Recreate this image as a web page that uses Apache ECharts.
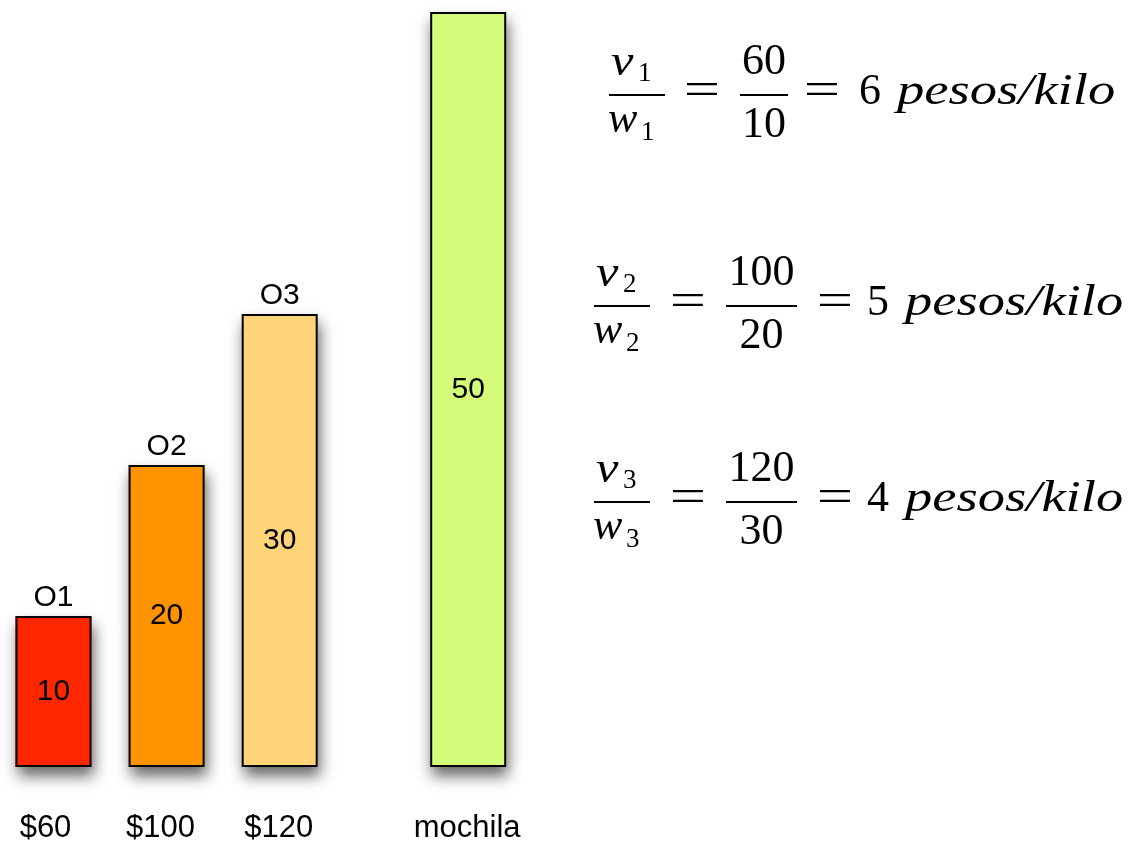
<!DOCTYPE html>
<html>
<head>
<meta charset="utf-8">
<script src="https://cdn.jsdelivr.net/npm/echarts@6/dist/echarts.min.js"></script>
<style>
html,body{margin:0;padding:0;background:#fff;}
#chart{width:1135px;height:844px;}
</style>
</head>
<body>
<div id="chart"></div>
<script>
// ---- data ----
const prices = ['$60', '$100', '$120', 'mochila'];
const weights = [10, 20, 30, 50];
const topLabels = ['O1', 'O2', 'O3', ''];
const colors = ['#FF2600', '#FF9300', '#FFD479', '#D4FB79'];
const eqValues = [60, 100, 120];
const eqWeights = [10, 20, 30];
const eqRatios = [6, 5, 4];
const unitText = 'pesos/kilo';

// ---- layout (category slots; mochila sits apart) ----
const slots = [0, 3, 6, 11];
const nSlots = 12;
const labelShift = [-8, -6, -1, -1];

const axisData = new Array(nSlots).fill('');
const barData = new Array(nSlots).fill('-');
const overData = new Array(nSlots).fill('-');
slots.forEach((s, i) => {
  const sh = labelShift[i];
  axisData[s] = {
    value: prices[i],
    textStyle: { padding: sh < 0 ? [0, -2 * sh, 0, 0] : [0, 0, 0, 2 * sh] }
  };
  barData[s] = { value: weights[i], itemStyle: { color: colors[i] } };
  overData[s] = { value: weights[i], name: topLabels[i] };
});

const SANS = '"Liberation Sans", Arimo, Helvetica, Arial, sans-serif';
const SERIF = '"Liberation Serif", "Times New Roman", serif';

// ---- math text ----
function txt(str, x, baseline, F, opts) {
  opts = opts || {};
  const el = {
    type: 'text',
    x: x,
    y: baseline - 0.338 * F,
    silent: true,
    style: {
      text: String(str),
      fontSize: F,
      fontFamily: SERIF,
      fontStyle: opts.italic ? 'italic' : 'normal',
      fill: '#000',
      align: opts.align || 'left',
      verticalAlign: 'middle'
    }
  };
  if (opts.scaleX) { el.scaleX = opts.scaleX; }
  return el;
}
function hline(x1, x2, y) {
  return { type: 'line', silent: true, shape: { x1: x1, y1: y, x2: x2, y2: y },
    style: { stroke: '#000', lineWidth: 2.2 } };
}
const axisY = [95, 306, 502];
const lay = [
  { f1L: 609, f1R: 665, eq1: 702, f2L: 740, f2R: 788, eq2: 822, r: 870, u: 897 },
  { f1L: 594, f1R: 650, eq1: 688, f2L: 726, f2R: 797, eq2: 835, r: 878, u: 905 },
  { f1L: 594, f1R: 650, eq1: 688, f2L: 726, f2R: 797, eq2: 835, r: 878, u: 905 }
];
const graphics = [];
eqValues.forEach((v, i) => {
  const A = axisY[i], L = lay[i];
  const F = 44, S = 27;
  graphics.push(hline(L.f1L, L.f1R, A));
  graphics.push(txt('v', L.f1L + 2, A - 17, F, { italic: true, scaleX: 1.15 }));
  graphics.push(txt(i + 1, L.f1L + 29, A - 12, S));
  graphics.push(txt('w', L.f1L - 1, A + 40, F, { italic: true }));
  graphics.push(txt(i + 1, L.f1L + 32, A + 47, S));
  graphics.push(txt('=', L.eq1, A + 12, 46, { align: 'center', scaleX: 1.4 }));
  graphics.push(hline(L.f2L, L.f2R, A));
  graphics.push(txt(v, (L.f2L + L.f2R) / 2, A - 18, F, { align: 'center' }));
  graphics.push(txt(eqWeights[i], (L.f2L + L.f2R) / 2, A + 45, F, { align: 'center' }));
  graphics.push(txt('=', L.eq2, A + 12, 46, { align: 'center', scaleX: 1.4 }));
  graphics.push(txt(eqRatios[i], L.r, A + 12, F, { align: 'center' }));
  graphics.push(txt(unitText, L.u, A + 12, F, { italic: true, scaleX: 1.24 }));
});

const chart = echarts.init(document.getElementById('chart'), null, { renderer: 'canvas' });
chart.setOption({
  backgroundColor: '#fff',
  animation: false,
  grid: { left: 34.65, right: 647.95, top: 12, bottom: 76, containLabel: false },
  xAxis: {
    type: 'category',
    data: axisData,
    axisLine: { show: false },
    axisTick: { show: false },
    splitLine: { show: false },
    axisLabel: { interval: 0, margin: 46, fontSize: 31, color: '#000', fontFamily: SANS }
  },
  yAxis: { type: 'value', min: 0, max: 50, show: false },
  series: [
    {
      type: 'bar',
      data: barData,
      barWidth: 76,
      clip: false,
      itemStyle: {
        borderWidth: 0,
        shadowColor: 'rgba(0,0,0,0.6)', shadowBlur: 14, shadowOffsetX: 2, shadowOffsetY: 9
      },
      label: { show: true, position: 'inside', fontSize: 30, color: '#000', fontFamily: SANS, formatter: '{c}' }
    },
    {
      type: 'bar',
      data: overData,
      barWidth: 76,
      barGap: '-100%',
      clip: false,
      silent: true,
      itemStyle: { color: 'rgba(0,0,0,0)', borderColor: '#000', borderWidth: 2 },
      label: { show: true, position: 'top', distance: 3, fontSize: 30, color: '#000', fontFamily: SANS,
        formatter: p => p.name || '' }
    }
  ],
  graphic: graphics
});
</script>
</body>
</html>
